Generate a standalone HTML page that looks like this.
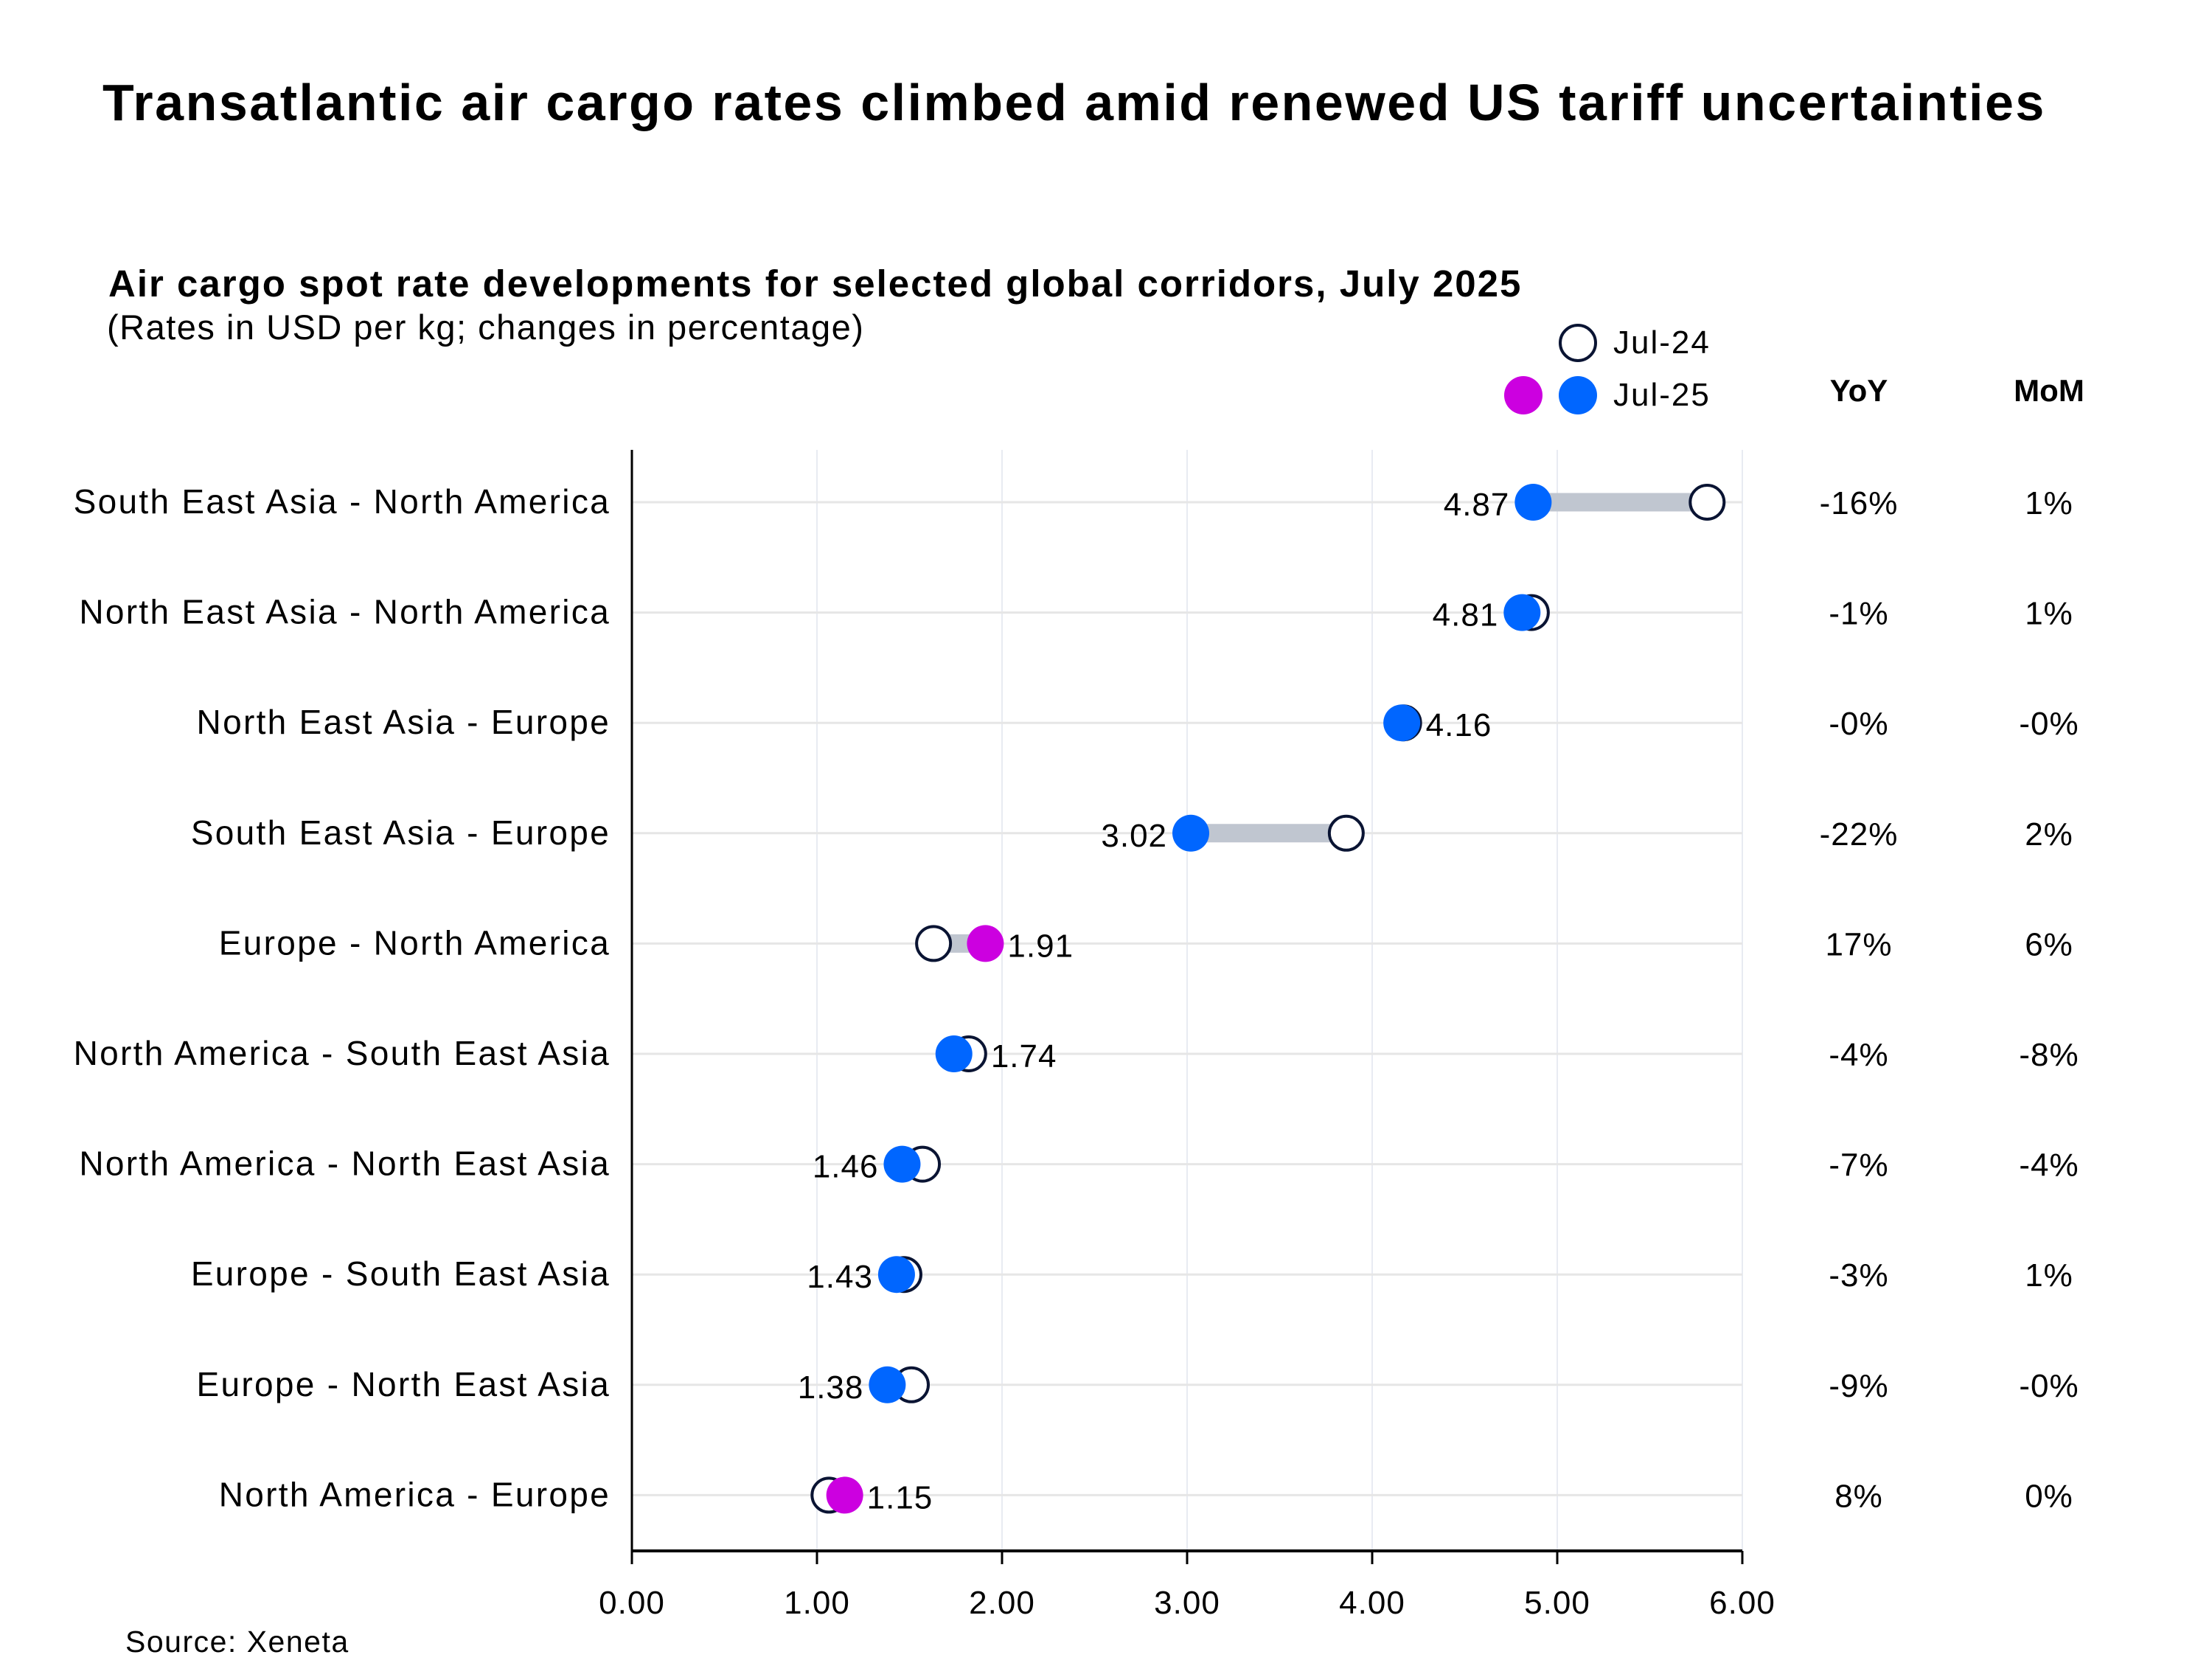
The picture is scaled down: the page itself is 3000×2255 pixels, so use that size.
<!DOCTYPE html>
<html><head><meta charset="utf-8"><style>
html,body{margin:0;padding:0;background:#fff;}
body{width:3000px;height:2250px;overflow:hidden;font-family:"Liberation Sans",sans-serif;}
</style></head><body>
<svg id="chart" width="3000" height="2250" xmlns="http://www.w3.org/2000/svg" font-family="Liberation Sans, sans-serif">
<text x="139" y="163" font-size="70" font-weight="bold" fill="#000" letter-spacing="2.5">Transatlantic air cargo rates climbed amid renewed US tariff uncertainties</text>
<text x="147" y="402" font-size="51" font-weight="bold" fill="#000" letter-spacing="2">Air cargo spot rate developments for selected global corridors, July 2025</text>
<text x="145" y="460" font-size="47" fill="#000" letter-spacing="1.5">(Rates in USD per kg; changes in percentage)</text>
<g>
<circle cx="2140" cy="465" r="24" fill="#fff" stroke="#0a1433" stroke-width="4"/>
<text x="2188" y="479" font-size="44" fill="#000" letter-spacing="2">Jul-24</text>
<circle cx="2066" cy="536" r="26" fill="#cc00e0"/>
<circle cx="2140" cy="536" r="26" fill="#0066ff"/>
<text x="2188" y="550" font-size="44" fill="#000" letter-spacing="2">Jul-25</text>
</g>
<text x="2521" y="544" font-size="42" font-weight="bold" text-anchor="middle">YoY</text>
<text x="2779" y="544" font-size="42" font-weight="bold" text-anchor="middle">MoM</text>
<text x="170" y="2250" font-size="41" fill="#000" dy="-10" letter-spacing="1.5">Source: Xeneta</text>
<g id="plot"></g>
</svg>
<script>
const categories=["South East Asia - North America","North East Asia - North America","North East Asia - Europe","South East Asia - Europe","Europe - North America","North America - South East Asia","North America - North East Asia","Europe - South East Asia","Europe - North East Asia","North America - Europe"];
const jul25=[4.87,4.81,4.16,3.02,1.91,1.74,1.46,1.43,1.38,1.15];
const jul24=[5.81,4.86,4.17,3.86,1.63,1.82,1.57,1.47,1.51,1.065];
const yoy=["-16%","-1%","-0%","-22%","17%","-4%","-7%","-3%","-9%","8%"];
const mom=["1%","1%","-0%","2%","6%","-8%","-4%","1%","-0%","0%"];
const highlight=[false,false,false,false,true,false,false,false,false,true];
const labelRight=[false,false,true,false,true,true,false,false,false,true];
const ticks=[0,1,2,3,4,5,6];
const tickLabels=["0.00","1.00","2.00","3.00","4.00","5.00","6.00"];

const X0=857,X1=2363,XMAX=6,TOP=610,BOT=2103,ROW0=681,ROWSTEP=149.6;
const x=v=>X0+(v/XMAX)*(X1-X0);
const y=i=>ROW0+i*ROWSTEP;
const NS="http://www.w3.org/2000/svg";
const g=document.getElementById('plot');
function mk(tag,attrs,parent){const e=document.createElementNS(NS,tag);for(const k in attrs)e.setAttribute(k,attrs[k]);(parent||g).appendChild(e);return e;}

ticks.forEach((t,i)=>{
  const gl=mk('line',{x1:x(t),x2:x(t),y1:TOP,y2:BOT,stroke:'#e8ebf2','stroke-width':2});
  
  
  const tk=mk('line',{x1:x(t),x2:x(t),y1:BOT,y2:BOT+18,stroke:'#000','stroke-width':3});
  
  
  const tl=mk('text',{x:x(t),y:2188,'font-size':44,'text-anchor':'middle',fill:'#000','letter-spacing':1});
  tl.textContent=tickLabels[i];
  
  
});
categories.forEach((c,i)=>{
  const hl=mk('line',{x1:X0,x2:X1,y1:y(i),y2:y(i),stroke:'#e6e6e6','stroke-width':3});
  
  
});
const ax=mk('line',{x1:X0,x2:X0,y1:TOP,y2:BOT,stroke:'#000','stroke-width':3});


const bx=mk('line',{x1:X0,x2:X1,y1:BOT,y2:BOT,stroke:'#000','stroke-width':4});



categories.forEach((c,i)=>{
  const cy=y(i);
  const lab=mk('text',{x:828,y:cy+15,'font-size':46,'text-anchor':'end',fill:'#000','letter-spacing':2.3});
  lab.textContent=c;
  
  
  const bar=mk('line',{x1:x(jul24[i]),x2:x(jul25[i]),y1:cy,y2:cy,stroke:'#c0c6d0','stroke-width':25});
  
  
  const p24=mk('circle',{cx:x(jul24[i]),cy:cy,r:23,fill:'#fff',stroke:'#0a1433','stroke-width':4});
  
  
  const p25=mk('circle',{cx:x(jul25[i]),cy:cy,r:25,fill:highlight[i]?'#cc00e0':'#0066ff'});
  
  
  const r=labelRight[i];
  const lx=r?Math.max(x(jul25[i]),x(jul24[i]))+30:Math.min(x(jul25[i]),x(jul24[i]))-32;
  const vl=mk('text',{x:lx,y:cy+18,'font-size':44,'text-anchor':r?'start':'end',fill:'#000','letter-spacing':1});
  vl.textContent=jul25[i].toFixed(2);
  
  
  const yt=mk('text',{x:2521,y:cy+16,'font-size':44,'text-anchor':'middle',fill:'#000','letter-spacing':1});
  yt.textContent=yoy[i];
  
  
  const mt=mk('text',{x:2779,y:cy+16,'font-size':44,'text-anchor':'middle',fill:'#000','letter-spacing':1});
  mt.textContent=mom[i];
  
  
});
</script>
</body></html>
